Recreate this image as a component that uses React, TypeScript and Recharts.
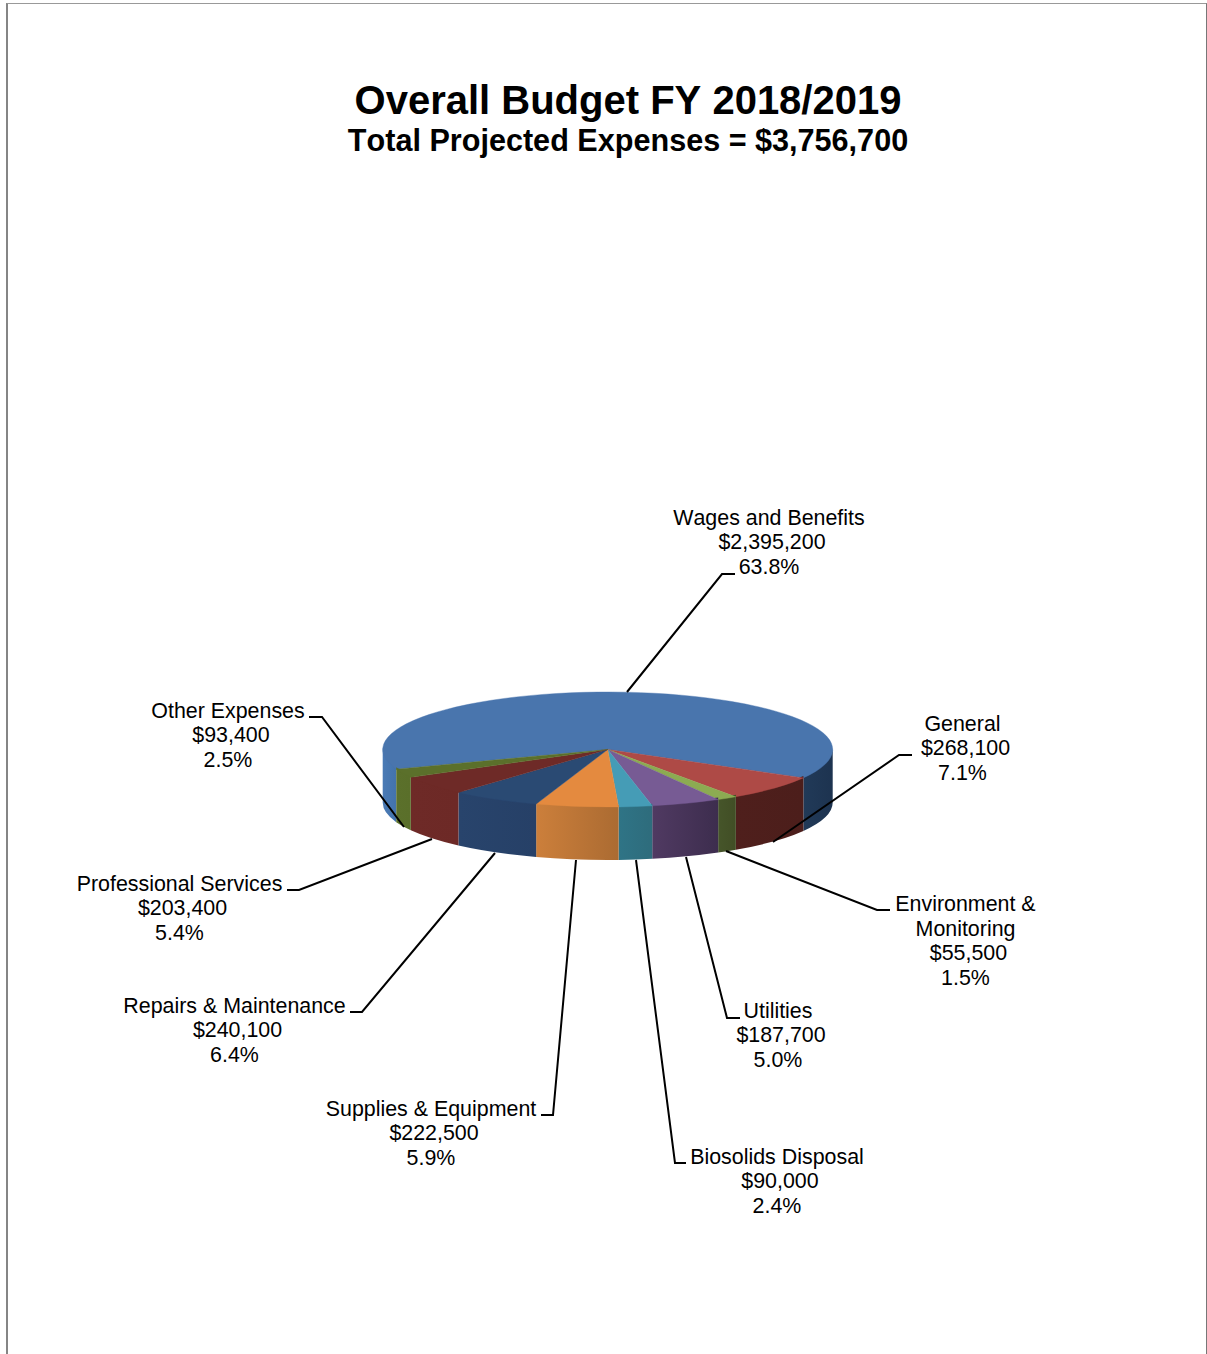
import React from 'react';
import { PieChart, Pie } from 'recharts';

const categories = [
  'Wages and Benefits',
  'General',
  'Environment & Monitoring',
  'Utilities',
  'Biosolids Disposal',
  'Supplies & Equipment',
  'Repairs & Maintenance',
  'Professional Services',
  'Other Expenses',
];
const expenses = [2395200, 268100, 55500, 187700, 90000, 222500, 240100, 203400, 93400];

// Label text wraps differently from the category name for this one entry.
const labelLines: string[][] = [
  ['Wages and Benefits'],
  ['General'],
  ['Environment &', 'Monitoring'],
  ['Utilities'],
  ['Biosolids Disposal'],
  ['Supplies & Equipment'],
  ['Repairs & Maintenance'],
  ['Professional Services'],
  ['Other Expenses'],
];

const topColors = ['#4975AD', '#AE4A46', '#8CAB52', '#775B94', '#459CB6', '#E48A3F', '#2A4A73', '#6E2A27', '#5B702B'];
// [left, right] shades for each visible stretch of a slice's rim.
const rimColors: string[][][] = [
  [['#4A7AB5', '#4373AC'], ['#213A58', '#1D3350']],
  [['#4F1F1C', '#4C1E1B']],
  [['#46552A', '#414E25']],
  [['#503A62', '#3D2D4E']],
  [['#2F7486', '#2E6C7C']],
  [['#CC7F3B', '#AB6B32']],
  [['#28446C', '#264067']],
  [['#6E2A27', '#6D2926']],
  [['#5B702B', '#5A6F2A']],
];

// Hand-placed callouts: text centre and the elbowed leader line for each slice.
const labelCentres = [
  [769, 518], [962.5, 724], [965.5, 904.4], [778, 1011], [777, 1157],
  [431, 1109], [234.5, 1006], [179.5, 884], [228, 711],
];
const leaders = [
  [[627, 692], [722, 574], [735, 574]],
  [[773, 842], [899, 755], [912, 755]],
  [[726, 851], [877, 910], [890, 910]],
  [[686, 857], [727, 1018], [740, 1018]],
  [[636, 860], [675, 1163], [686, 1163]],
  [[576, 860], [553, 1115], [541, 1115]],
  [[495, 853], [362, 1012], [350, 1012]],
  [[432, 839], [299, 890], [287, 890]],
  [[404, 827], [322, 717], [309, 717]],
];

const rows = categories.map((name, i) => ({ name, value: expenses[i] }));

const FONT = '"Liberation Sans", Arial, sans-serif';
const TILT = 57.5 / 225;
const DEPTH = 53;
const LINE_HEIGHT = 24.4;
// The rim starts slightly under the top face so no seam shows along the shared edge.
const RIM_OVERLAP = 2;

// Draws a slice as a tilted disc wedge: the visible rim first, then the top face.
function TiltedSlice(props: any) {
  const { cx, cy, outerRadius: r, startAngle, endAngle, index, fill } = props;
  const sliceIndex = index ?? topColors.indexOf(fill);
  const at = (t: number, dy = 0) => {
    const rad = (t * Math.PI) / 180;
    return `${cx + r * Math.cos(rad)} ${cy + r * TILT * Math.sin(rad) + dy}`;
  };
  // t runs clockwise from 3 o'clock, so the front of the disc is 0..180.
  const t0 = -startAngle;
  const t1 = -endAngle;
  const large = t1 - t0 > 180 ? 1 : 0;
  const face = `M${cx} ${cy}L${at(t0)}A${r} ${r * TILT} 0 ${large} 1 ${at(t1)}Z`;

  const stretches: [number, number][] = [];
  [-360, 0, 360].forEach((turn) => {
    const a = Math.max(t0, turn);
    const b = Math.min(t1, turn + 180);
    if (b > a) stretches.push([a, b]);
  });
  const shades = rimColors[sliceIndex] ?? [];

  return (
    <g>
      {stretches.map(([a, b], k) => {
        const [left, right] = shades[k] ?? shades[0];
        const id = `rim-${sliceIndex}-${k}`;
        return (
          <g key={id}>
            <defs>
              <linearGradient id={id} x1="0" x2="1" y1="0" y2="0">
                <stop offset="0" stopColor={left} />
                <stop offset="1" stopColor={right} />
              </linearGradient>
            </defs>
            <path
              fill={`url(#${id})`}
              d={`M${at(a, -RIM_OVERLAP)}A${r} ${r * TILT} 0 0 1 ${at(b, -RIM_OVERLAP)}L${at(b, DEPTH)}A${r} ${r * TILT} 0 0 0 ${at(a, DEPTH)}Z`}
            />
          </g>
        );
      })}
      <path d={face} fill={topColors[sliceIndex]} stroke={topColors[sliceIndex]} strokeWidth={0.4} strokeLinejoin="round" />
    </g>
  );
}

// Callout text (name, amount, share) with its leader line.
function Callout(props: any) {
  const { index, value, percent } = props;
  const [x, y] = labelCentres[index];
  const lines = [
    ...labelLines[index].map((t) => ({ t, shift: 0 })),
    { t: `$${Number(value).toLocaleString('en-US')}`, shift: 3 },
    { t: `${(percent * 100).toFixed(1)}%`, shift: 0 },
  ];
  return (
    <g>
      <polyline
        points={leaders[index].map((p) => p.join(',')).join(' ')}
        fill="none"
        stroke="#000"
        strokeWidth={2}
      />
      {lines.map((line, k) => (
        <text
          key={k}
          x={x + line.shift}
          y={y + 7 + k * LINE_HEIGHT}
          textAnchor="middle"
          fontFamily={FONT}
          fontSize={21.4}
          fill="#000"
          style={{ fontKerning: 'none' }}
        >
          {line.t}
        </text>
      ))}
    </g>
  );
}

const headingStyle: React.CSSProperties = {
  position: 'absolute',
  left: 0,
  width: 1256,
  textAlign: 'center',
  fontFamily: FONT,
  fontWeight: 700,
  color: '#000',
  whiteSpace: 'nowrap',
  fontKerning: 'none',
};

export default function App() {
  return (
    <div style={{ position: 'absolute', left: 0, top: 0, width: 1207, height: 1354, overflow: 'hidden', background: '#fff' }}>
      <div
        style={{
          position: 'absolute',
          left: 6,
          top: 3,
          width: 1198,
          height: 1351,
          borderLeft: '2px solid #858585',
          borderTop: '1px solid #999',
          borderRight: '1px solid #777',
        }}
      />
      <div style={{ ...headingStyle, top: 77, fontSize: 40, lineHeight: '46px' }}>Overall Budget FY 2018/2019</div>
      <div style={{ ...headingStyle, top: 122, fontSize: 30.6, lineHeight: '36px' }}>
        Total Projected Expenses = $3,756,700
      </div>
      <div style={{ position: 'absolute', left: 0, top: 0 }}>
        <PieChart width={1207} height={1354} margin={{ top: 0, right: 0, bottom: 0, left: 0 }}>
          <Pie
            data={rows}
            dataKey="value"
            nameKey="name"
            cx={607.7}
            cy={749.5}
            innerRadius={0}
            outerRadius={225}
            startAngle={200}
            endAngle={-160}
            paddingAngle={0}
            stroke="none"
            isAnimationActive={false}
            shape={TiltedSlice}
            label={Callout}
            labelLine={false}
          />
        </PieChart>
      </div>
    </div>
  );
}
